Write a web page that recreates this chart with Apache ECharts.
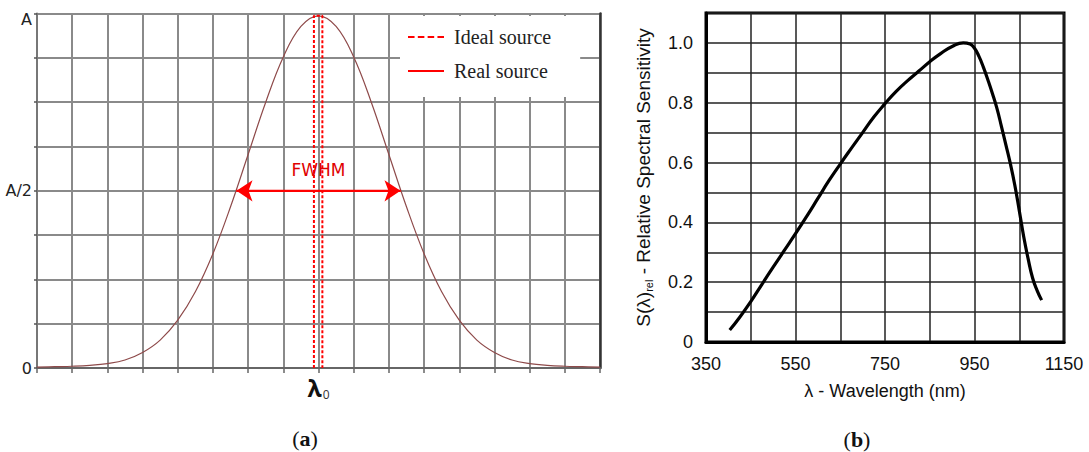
<!DOCTYPE html>
<html><head><meta charset="utf-8">
<script src="https://cdn.jsdelivr.net/npm/echarts@6/dist/echarts.min.js"></script>
<style>html,body{margin:0;padding:0;background:#fff}#c{width:1089px;height:452px}</style>
</head><body><div id="c"></div>
<script>
// ---- (a) spectral line of a source ----
const gaussX = [-8,-7.5,-7,-6.5,-6,-5.5,-5,-4.5,-4,-3.5,-3,-2.5,-2,-1.5,-1,-0.5,0,0.5,1,1.5,2,2.5,3,3.5,4,4.5,5,5.5,6,6.5,7,7.5,8];
const gaussY = [0.02,0.03,0.04,0.06,0.10,0.18,0.35,0.63,1.08,1.72,2.58,3.64,4.82,6.00,7.02,7.71,7.95,7.71,7.02,6.00,4.82,3.64,2.58,1.72,1.08,0.63,0.35,0.18,0.10,0.06,0.04,0.03,0.02];
const idealX = [-0.13,-0.13,0.11,0.11];
const idealY = [0,7.95,7.95,0];
const fwhmX = [-2.33, 2.33];
const fwhmLevel = 4;
const leftYLabels = {0:'0', 4:'A/2', 8:'A'};
const leftXLabels = {0:'λ0'};
// ---- (b) relative spectral sensitivity ----
const specX = [403,425,450,475,500,525,550,575,600,625,650,675,700,725,750,775,800,825,850,875,900,925,940,950,960,970,980,990,1000,1010,1020,1030,1040,1050,1060,1070,1080,1090,1100];
const specY = [0.040,0.082,0.135,0.193,0.250,0.306,0.362,0.420,0.480,0.540,0.595,0.648,0.700,0.752,0.797,0.838,0.873,0.905,0.937,0.965,0.988,1.000,0.996,0.982,0.955,0.918,0.876,0.831,0.782,0.722,0.660,0.597,0.525,0.440,0.352,0.277,0.213,0.172,0.140];
const rightYLabels = [0,0.2,0.4,0.6,0.8,1.0];
const rightXLabels = [350,550,750,950,1150];

const zip = (a,b) => a.map((v,i)=>[v,b[i]]);
const chart = echarts.init(document.getElementById('c'), null, {renderer:'svg'});
const grayGrid = {color:'#8a8a8a', width:2};
const sans = 'DejaVu Sans';
const helv = 'Liberation Sans';
const dashIcon = 'path://M0,6H6V8H0Z M9,6H15V8H9Z M18,6H24V8H18Z M27,6H33V8H27Z';
const solidIcon = 'path://M0,6H36V8H0Z';

chart.setOption({
  animation:false,
  backgroundColor:'#fff',
  grid:[
    {left:37, right:489, top:13.6, bottom:84},
    {left:706, right:25, top:13, bottom:110, show:true, borderColor:'#000', borderWidth:3}
  ],
  legend:{
    left:400, top:16, orient:'vertical',
    backgroundColor:'#fff',
    padding:[11,29,16,8],
    itemWidth:36, itemHeight:14, itemGap:14,
    textStyle:{fontFamily:'Liberation Serif', fontSize:20, color:'#222', padding:[0,0,0,5]},
    data:[
      {name:'Ideal source', icon:dashIcon, itemStyle:{color:'red'}},
      {name:'Real source', icon:solidIcon, itemStyle:{color:'red'}}
    ]
  },
  xAxis:[
    {type:'value', gridIndex:0, min:-8, max:8, interval:1,
     axisLine:{show:true, onZero:false, lineStyle:{color:'#666', width:2}},
     axisTick:{show:true, length:5, lineStyle:{color:'#666', width:1.5}},
     axisLabel:{margin:8, formatter:v=> v===0 ? '{l|λ}{s|0}' : '',
       rich:{l:{fontFamily:'Open Sans', fontSize:23, fontWeight:'bold', color:'#111'},
             s:{fontFamily:'Open Sans', fontSize:12, color:'#333', padding:[12,0,0,1]}}},
     splitLine:{show:true, lineStyle:grayGrid}},
    {type:'value', gridIndex:1, min:350, max:1150, interval:100,
     axisLine:{show:true, onZero:false, lineStyle:{color:'#000', width:3}},
     axisTick:{show:false},
     axisLabel:{margin:13, fontFamily:helv, fontSize:18, color:'#111',
       formatter:v=> rightXLabels.includes(v) ? String(v) : ''},
     splitLine:{show:true, lineStyle:{color:'#222', width:1.5}},
     name:'λ - Wavelength (nm)', nameLocation:'middle', nameGap:40,
     nameTextStyle:{fontFamily:helv, fontSize:18, color:'#111'}}
  ],
  yAxis:[
    {type:'value', gridIndex:0, min:0, max:8, interval:1,
     axisLine:{show:true, onZero:false, lineStyle:{color:'#777', width:2}},
     axisTick:{show:true, length:3, lineStyle:{color:'#555', width:1.5}},
     axisLabel:{margin:5, fontFamily:sans, fontSize:16, color:'#222',
       formatter:v=> v===8 ? '{t|A}' : (leftYLabels[v] !== undefined ? '{a|' + leftYLabels[v] + '}' : ''),
       rich:{a:{fontFamily:sans, fontSize:16, color:'#222'},
             t:{fontFamily:sans, fontSize:16, color:'#222', padding:[12,0,0,0]}}},
     splitLine:{show:true, lineStyle:grayGrid}},
    {type:'value', gridIndex:0, position:'right', min:0, max:8,
     axisLine:{show:true, onZero:false, lineStyle:{color:'#333', width:2.5}},
     axisTick:{show:false}, axisLabel:{show:false}, splitLine:{show:false}},
    {type:'value', gridIndex:1, min:0, max:1.1, interval:0.1,
     axisLine:{show:true, onZero:false, lineStyle:{color:'#000', width:3}},
     axisTick:{show:false},
     axisLabel:{margin:13, fontFamily:helv, fontSize:18, color:'#111',
       formatter:v=>{ const r=Math.round(v*10)/10; if(!rightYLabels.some(t=>Math.abs(t-r)<1e-9)) return ''; return r===0?'0':r.toFixed(1);} },
     splitLine:{show:true, lineStyle:{color:'#222', width:1.5}},
     name:'S(λ){s|rel} - Relative Spectral Sensitivity', nameLocation:'middle', nameGap:52,
     nameTextStyle:{fontFamily:helv, fontSize:19, color:'#111',
       rich:{s:{fontFamily:helv, fontSize:11, color:'#111', padding:[10,0,0,0]}}}}
  ],
  series:[
    {name:'Real source', type:'line', xAxisIndex:0, yAxisIndex:0, data:zip(gaussX,gaussY),
     smooth:0.4, symbol:'none', lineStyle:{color:'#8e4a4a', width:1.2}, itemStyle:{color:'#8e4a4a'}, z:3},
    {name:'Ideal source', type:'line', xAxisIndex:0, yAxisIndex:0, data:zip(idealX,idealY),
     symbol:'none', lineStyle:{color:'red', width:2, type:[3,2]}, itemStyle:{color:'red'}, z:4},
    {name:'fwhm', type:'line', xAxisIndex:0, yAxisIndex:0, data:zip(fwhmX,[fwhmLevel,fwhmLevel]),
     symbol:'none', lineStyle:{color:'red', width:2}, z:5,
     markLine:{silent:true, symbol:['arrow','arrow'], symbolSize:[16,16],
       lineStyle:{color:'red', width:2, type:'solid'},
       label:{show:true, position:'middle', formatter:'FWHM', color:'#e00000', fontFamily:sans, fontSize:17, distance:12},
       data:[[{coord:[fwhmX[0],fwhmLevel]},{coord:[fwhmX[1],fwhmLevel]}]]}},
    {name:'sensitivity', type:'line', xAxisIndex:1, yAxisIndex:2, data:zip(specX,specY),
     smooth:true, symbol:'none', lineStyle:{color:'#000', width:3.2}, z:3}
  ],
  graphic:[
    {type:'text', x:305, y:438, style:{text:'{p|(}{b|a}{p|)}', align:'center', verticalAlign:'middle',
      rich:{p:{fontFamily:'Liberation Serif', fontSize:22, fill:'#111'}, b:{fontFamily:'Liberation Serif', fontSize:22, fontWeight:'bold', fill:'#111'}}}},
    {type:'text', x:857, y:439, style:{text:'{p|(}{b|b}{p|)}', align:'center', verticalAlign:'middle',
      rich:{p:{fontFamily:'Liberation Serif', fontSize:22, fill:'#111'}, b:{fontFamily:'Liberation Serif', fontSize:22, fontWeight:'bold', fill:'#111'}}}}
  ]
});
</script></body></html>
